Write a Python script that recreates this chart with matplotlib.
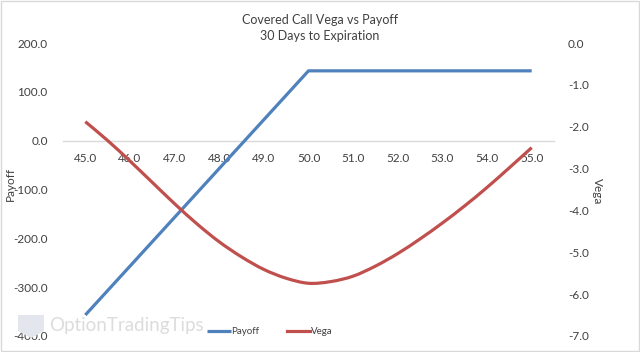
import numpy as np
import matplotlib.pyplot as plt
from matplotlib.patches import Rectangle, Polygon, PathPatch
from matplotlib.path import Path

plt.rcParams['font.family'] = ['Lato', 'DejaVu Sans']

# stock price categories
prices = [45, 46, 47, 48, 49, 50, 51, 52, 53, 54, 55]
price_labels = ['%.1f' % p for p in prices]

# covered call payoff at each price
payoff = [-357, -257, -157, -57, 43, 143, 143, 143, 143, 143, 143]

# vega every half point
vega_x = [45.0, 45.5, 46.0, 46.5, 47.0, 47.5, 48.0, 48.5, 49.0, 49.5, 50.0,
          50.5, 51.0, 51.5, 52.0, 52.5, 53.0, 53.5, 54.0, 54.5, 55.0]
vega = [-1.88, -2.33, -2.82, -3.33, -3.84, -4.32, -4.75, -5.11, -5.41, -5.62, -5.74,
        -5.70, -5.57, -5.33, -5.03, -4.68, -4.30, -3.89, -3.45, -2.98, -2.50]

blue = '#4f81bd'
red = '#c0504d'
txt = '#404040'


def smooth_path(xs, ys):
    # excel-like smoothed line: catmull-rom segments as cubic beziers
    pts = np.column_stack([xs, ys]).astype(float)
    ext = np.vstack([pts[0], pts, pts[-1]])
    verts = [pts[0]]
    codes = [Path.MOVETO]
    for i in range(1, len(ext) - 2):
        p0, p1, p2, p3 = ext[i - 1], ext[i], ext[i + 1], ext[i + 2]
        verts += [p1 + (p2 - p0) / 6, p2 - (p3 - p1) / 6, p2]
        codes += [Path.CURVE4] * 3
    return Path(verts, codes)


fig = plt.figure(figsize=(6.4, 3.52), dpi=100)
ax = fig.add_axes([63/640, 1 - 336/352, (554 - 63)/640, (336 - 43)/352])
ax2 = ax.twinx()

l1, = ax.plot(prices, payoff, color=blue, lw=2.3, solid_capstyle='butt', zorder=3)
ax2.add_patch(PathPatch(smooth_path(vega_x, vega), fill=False, edgecolor=red,
                        lw=2.3, capstyle='butt', zorder=3))
l2, = ax2.plot([], [], color=red, lw=2.3)

ax.set_xlim(44.5, 55.5)
ax.set_ylim(-400, 200)
ax.set_yticks(np.arange(-400, 201, 100))
ax.set_yticklabels(['%.1f' % v for v in np.arange(-400, 201, 100)])
ax2.set_ylim(-7, 0)
ax2.set_yticks(np.arange(-7, 0.1, 1))
ax2.set_yticklabels(['%.1f' % v for v in np.arange(-7, 0.1, 1)])

ax.set_xticks(prices)
ax.set_xticklabels(price_labels)

# category axis sits at payoff = 0
for a in (ax, ax2):
    for s in ['top', 'left', 'right', 'bottom']:
        a.spines[s].set_visible(False)
ax.spines['bottom'].set_visible(True)
ax.spines['bottom'].set_position(('data', 0))
ax.spines['bottom'].set_color('#d9d9d9')
ax.spines['bottom'].set_linewidth(1)

ax.tick_params(axis='x', length=0, pad=9, labelsize=8.5, labelcolor=txt)
ax.tick_params(axis='y', length=0, pad=11, labelsize=8.5, labelcolor=txt)
ax2.tick_params(axis='y', length=0, pad=10, labelsize=8.5, labelcolor=txt)

fig.text(10/640, 1 - 184/352, 'Payoff', rotation=90, ha='center', va='center',
         fontsize=8.5, color=txt)
fig.text(597/640, 1 - 191/352, 'Vega', rotation=270, ha='center', va='center',
         fontsize=8.5, color=txt)

fig.text(0.5, 1 - 20/352, 'Covered Call Vega vs Payoff', ha='center', va='center',
         fontsize=9, color=txt)
fig.text(0.5, 1 - 36/352, '30 Days to Expiration', ha='center', va='center',
         fontsize=9, color=txt)

# legend
leg = fig.legend([l1, l2], ['Payoff', 'Vega'], loc='center', ncol=2,
                 bbox_to_anchor=(270/640, 1 - 332/352), frameon=False,
                 fontsize=7, handlelength=2.4, handletextpad=0.1, columnspacing=2.8)
for t in leg.get_texts():
    t.set_color(txt)

# faint watermark
logo = Polygon([[18/640, 1 - 315/352], [44/640, 1 - 315/352], [44/640, 1 - 331/352],
                [31/640, 1 - 338/352], [18/640, 1 - 331/352]],
               closed=True, transform=fig.transFigure, facecolor='#e4e6ee',
               edgecolor='none', zorder=0)
fig.patches.append(logo)
fig.text(49/640, 1 - 326/352, 'OptionTradingTips', ha='left', va='center', fontsize=13.5,
         color='#dcdcdc', zorder=0)

# chart border
fig.patches.append(Rectangle((0.001, 0.002), 0.997, 0.995, transform=fig.transFigure,
                             fill=False, edgecolor='#d9d9d9', lw=1))

fig.savefig('out.png', dpi=100)
